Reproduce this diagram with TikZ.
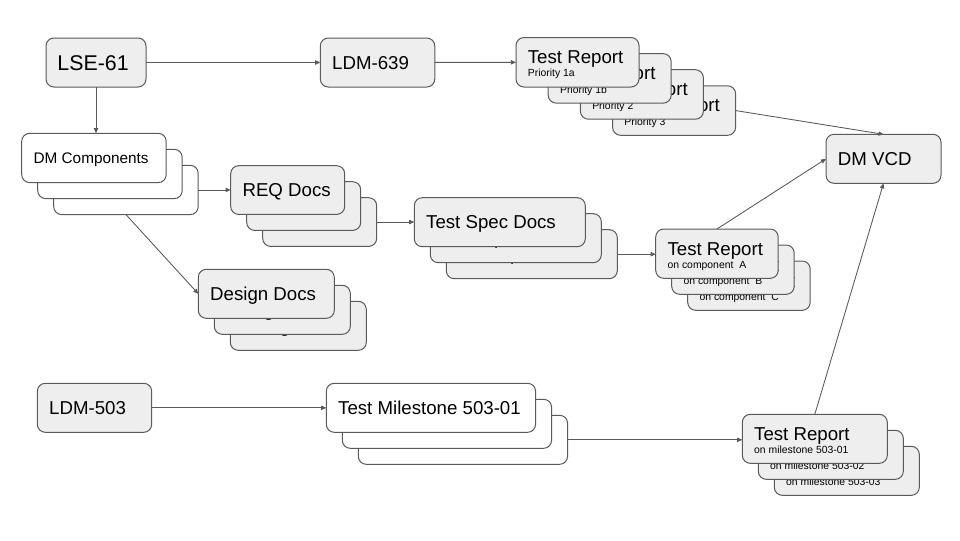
\documentclass[tikz,border=0pt]{standalone}
\usepackage{fontspec}
\setmainfont{Liberation Sans}
\usetikzlibrary{arrows.meta}
\definecolor{edge}{HTML}{5A5A5A}
\definecolor{boxgray}{HTML}{EEEEEE}
\newcommand\bx[6]{\node[#6, anchor=north west, minimum width=#4*0.75pt, minimum height=#5*0.75pt] (#1) at (#2,#3) {};}
\begin{document}
\begin{tikzpicture}[x=0.75pt,y=-0.75pt,
  gbox/.style={draw=edge, line width=0.75pt, rounded corners=6pt, fill=boxgray, inner sep=0pt, outer sep=0pt},
  wbox/.style={gbox, fill=white},
  lbl/.style={anchor=base west, inner sep=0pt, font=\fontsize{14}{16}\selectfont, xshift=8.7pt, yshift=-5pt},
  lblbig/.style={anchor=base west, inner sep=0pt, font=\fontsize{16}{18}\selectfont, xshift=8.4pt, yshift=-5.8pt},
  lblsmall/.style={anchor=base west, inner sep=0pt, font=\fontsize{11.5}{13}\selectfont, xshift=8.7pt, yshift=-4.1pt},
  ttl/.style={anchor=base west, inner sep=0pt, font=\fontsize{14}{16}\selectfont, xshift=8.7pt, yshift=-19.5pt},
  sub/.style={anchor=base west, inner sep=0pt, font=\fontsize{7.8}{9}\selectfont, xshift=8.7pt, yshift=-29.6pt},
  link/.style={draw=edge, line width=0.65pt, -{Triangle[length=3.8pt,width=3.2pt]}}]
\fill[white] (0,0) rectangle (960,540);
\useasboundingbox (0,0) rectangle (960,540);

% LSE-61 and LDM-639
\bx{lse}{46}{38}{100}{49}{gbox}
\node[lblbig] (lset) at (lse.west) {LSE-61};
\bx{ldm639}{320.3}{38}{114.5}{49}{gbox}
\node[lbl] (ldm639t) at (ldm639.west) {LDM-639};

% priority test reports
\bx{pr4}{612.6}{85.8}{123}{49.5}{gbox}
\node[ttl] (pr4t) at (pr4.north west) {Test Report};
\node[sub] (pr4s) at (pr4.north west) {Priority 3};
\bx{pr3}{580.4}{69.7}{123}{49.5}{gbox}
\node[ttl] (pr3t) at (pr3.north west) {Test Report};
\node[sub] (pr3s) at (pr3.north west) {Priority 2};
\bx{pr2}{548.2}{53.6}{123}{49.5}{gbox}
\node[ttl] (pr2t) at (pr2.north west) {Test Report};
\node[sub] (pr2s) at (pr2.north west) {Priority 1b};
\bx{pr1}{516}{37.5}{123}{49.5}{gbox}
\node[ttl] (pr1t) at (pr1.north west) {Test Report};
\node[sub] (pr1s) at (pr1.north west) {Priority 1a};

% DM VCD
\bx{vcd}{826}{134.3}{115}{49}{gbox}
\node[lbl] (vcdt) at (vcd.west) {DM VCD};

% DM Components
\bx{dmc3}{53.7}{165.3}{144.5}{49.3}{wbox}
\node[lblsmall] (dmc3t) at (dmc3.west) {DM Components};
\bx{dmc2}{37.7}{149.3}{144.5}{49.3}{wbox}
\node[lblsmall] (dmc2t) at (dmc2.west) {DM Components};
\bx{dmc1}{21.7}{133.3}{144.5}{49.3}{wbox}
\node[lblsmall] (dmc1t) at (dmc1.west) {DM Components};

% REQ Docs
\bx{req3}{262.7}{197.7}{114}{48.7}{gbox}
\bx{req2}{246.7}{181.7}{114}{48.7}{gbox}
\bx{req1}{230.7}{165.7}{114}{48.7}{gbox}
\node[lbl] (req1t) at (req1.west) {REQ Docs};

% Test Spec Docs
\bx{spec3}{446.3}{229.7}{171}{49}{gbox}
\node[lbl] (spec3t) at (spec3.west) {Test Spec Docs};
\bx{spec2}{430.3}{213.7}{171}{49}{gbox}
\node[lbl] (spec2t) at (spec2.west) {Test Spec Docs};
\bx{spec1}{414.3}{197.7}{171}{49}{gbox}
\node[lbl] (spec1t) at (spec1.west) {Test Spec Docs};

% Design Docs
\bx{design3}{230.3}{301.3}{136}{49}{gbox}
\node[lbl] (design3t) at (design3.west) {Design Docs};
\bx{design2}{214.3}{285.3}{136}{49}{gbox}
\node[lbl] (design2t) at (design2.west) {Design Docs};
\bx{design1}{198.3}{269.3}{136}{49}{gbox}
\node[lbl] (design1t) at (design1.west) {Design Docs};

% component test reports
\bx{comp3}{687.7}{261}{122.5}{49.3}{gbox}
\node[ttl] (comp3t) at (comp3.north west) {Test Report};
\node[sub] (comp3s) at (comp3.north west) {on component~~C};
\bx{comp2}{671.7}{245}{122.5}{49.3}{gbox}
\node[ttl] (comp2t) at (comp2.north west) {Test Report};
\node[sub] (comp2s) at (comp2.north west) {on component~~B};
\bx{comp1}{655.7}{229}{122.5}{49.3}{gbox}
\node[ttl] (comp1t) at (comp1.north west) {Test Report};
\node[sub] (comp1s) at (comp1.north west) {on component~~A};

% LDM-503 and milestones
\bx{ldm503}{37.3}{383.3}{114.4}{49}{gbox}
\node[lbl] (ldm503t) at (ldm503.west) {LDM-503};
\bx{ms3}{358.3}{415.3}{209.3}{49}{wbox}
\bx{ms2}{342.3}{399.3}{209.3}{49}{wbox}
\bx{ms1}{326.3}{383.3}{209.3}{49}{wbox}
\node[lbl] (ms1t) at (ms1.west) {Test Milestone 503-01};

% milestone test reports
\bx{bt3}{774.3}{446.3}{145}{49}{gbox}
\node[ttl] (bt3t) at (bt3.north west) {Test Report};
\node[sub] (bt3s) at (bt3.north west) {on milestone 503-03};
\bx{bt2}{758.3}{430.3}{145}{49}{gbox}
\node[ttl] (bt2t) at (bt2.north west) {Test Report};
\node[sub] (bt2s) at (bt2.north west) {on milestone 503-02};
\bx{bt1}{742.3}{414.3}{145}{49}{gbox}
\node[ttl] (bt1t) at (bt1.north west) {Test Report};
\node[sub] (bt1s) at (bt1.north west) {on milestone 503-01};

% connectors
\draw[link] (lse) -- (ldm639);
\draw[link] (ldm639) -- (pr1);
\draw[link] (lse.south) -- (lse.south |- dmc1.north);
\draw[link] (dmc3.east) -- (dmc3.east -| req1.west);
\draw[link] (dmc3.south) -- (design1.west);
\draw[link] (req3.east) -- (req3.east -| spec1.west);
\draw[link] (spec3.east) -- (spec3.east -| comp1.west);
\draw[link] (comp1.north) -- (vcd.west);
\draw[link] (pr4.east) -- (vcd.north);
\draw[link] (ldm503) -- (ms1);
\draw[link] (ms3.east) -- (ms3.east -| bt1.west);
\draw[link] (bt1.north) -- (vcd.south);
\end{tikzpicture}
\end{document}
